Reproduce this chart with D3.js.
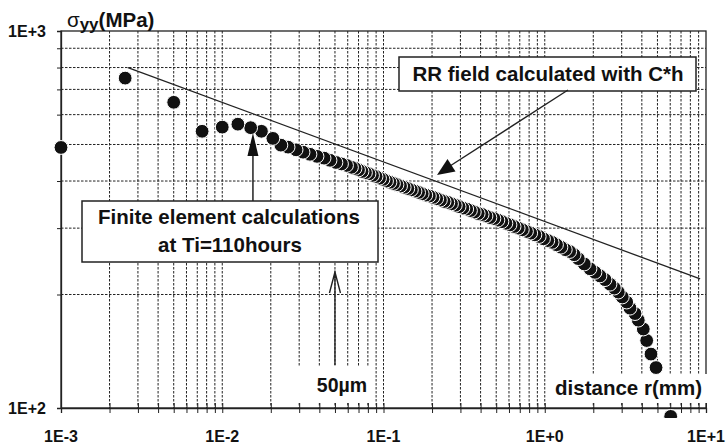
<!DOCTYPE html>
<html>
<head>
<meta charset="utf-8">
<script src="https://cdn.jsdelivr.net/npm/d3@7"></script>
<style>
  body { margin: 0; background: #fff; }
  svg { display: block; font-family: "Liberation Sans", Arial, sans-serif; }
</style>
</head>
<body>
<div id="chart"></div>
<script>
// distance from crack tip r (mm) and opening stress sigma_yy (MPa)
const rMM = [0.001, 0.0025, 0.005, 0.0075, 0.01, 0.0125, 0.015, 0.0175,
  0.0206, 0.0231, 0.0256, 0.0287, 0.0317, 0.0350, 0.0387, 0.0428, 0.0466, 0.0507, 0.0549, 0.0590, 0.0633,
  0.0666, 0.0700, 0.0736, 0.0773, 0.0813, 0.0855, 0.0899, 0.0945, 0.0993, 0.1044,
  0.1097, 0.1153, 0.1212, 0.1276, 0.1344, 0.1415, 0.1489, 0.1568, 0.1651, 0.1738,
  0.1829, 0.1926, 0.2028, 0.2138, 0.2254, 0.2376, 0.2505, 0.2641, 0.2788, 0.2943,
  0.3107, 0.3281, 0.3463, 0.3658, 0.3866, 0.4088, 0.4322, 0.4569, 0.4838, 0.5122,
  0.5424, 0.5742, 0.6087, 0.6455, 0.6842, 0.7259, 0.7705, 0.8184, 0.8689, 0.9239,
  0.9822, 1.044, 1.111, 1.183, 1.260, 1.341, 1.428, 1.522, 1.615,
  1.759, 1.908, 2.049, 2.200, 2.364, 2.539, 2.700, 2.858, 3.026, 3.222,
  3.378, 3.628, 3.803, 4.085, 4.287, 4.559, 4.90, 6.04];
const sigmaMPa = [491, 750, 647, 542, 556, 566, 554, 542,
  519, 498, 492, 484, 477, 471, 465, 460, 454, 448, 444, 440, 435,
  432, 428, 424, 421, 418, 414, 411, 407, 404, 400,
  397, 394, 391, 388, 385, 382, 379, 376, 373, 370,
  367, 365, 362, 359, 356, 353, 351, 348, 345, 342,
  339, 337, 334, 331, 328, 326, 323, 320, 318, 315,
  312, 309, 306, 303, 300, 297, 294, 291, 288, 285,
  281, 278, 275, 271, 267, 263, 260, 255, 249,
  241, 234, 229, 224, 219, 213, 208, 203, 197, 191,
  184, 178, 171, 162, 151, 139, 128, 95];

// RR field line (two end points)
const rrR = [0.0026, 9.2];
const rrSigma = [800, 220];

const xTickValues = [0.001, 0.01, 0.1, 1, 10];
const xTickLabels = ["1E-3", "1E-2", "1E-1", "1E+0", "1E+1"];
const yTickValues = [100, 1000];
const yTickLabels = ["1E+2", "1E+3"];

const width = 726, height = 448;

const svg = d3.select("#chart").append("svg")
    .attr("width", width)
    .attr("height", height);

const x = d3.scaleLog().domain([0.001, 10]).range([61, 706]);
const y = d3.scaleLog().domain([100, 1000]).range([408, 31]);

// grid
const grid = svg.append("g")
    .attr("stroke", "#222")
    .attr("stroke-width", 1)
    .attr("stroke-dasharray", "2.5,1.5");
grid.selectAll("line.v")
    .data(x.ticks().filter(d => d > 0.001 && d < 10))
    .join("line")
    .attr("class", "v")
    .attr("x1", d => x(d)).attr("x2", d => x(d))
    .attr("y1", y(1000)).attr("y2", y(100));
grid.selectAll("line.h")
    .data(y.ticks().filter(d => d > 100 && d < 1000))
    .join("line")
    .attr("class", "h")
    .attr("x1", x(0.001)).attr("x2", x(10))
    .attr("y1", d => y(d)).attr("y2", d => y(d));

// frame
svg.append("rect")
    .attr("x", x(0.001)).attr("y", y(1000))
    .attr("width", x(10) - x(0.001))
    .attr("height", y(100) - y(1000))
    .attr("fill", "none")
    .attr("stroke", "#222")
    .attr("stroke-width", 1.3);

// white backings behind the lower labels
svg.append("rect").attr("x", 296).attr("y", 366).attr("width", 76).attr("height", 37).attr("fill", "#fff");
svg.append("rect").attr("x", 549).attr("y", 374).attr("width", 162).attr("height", 29).attr("fill", "#fff");

// axes ticks
const xAxis = d3.axisBottom(x)
    .tickValues(x.ticks())
    .tickSize(5)
    .tickFormat("");
svg.append("g")
    .attr("transform", `translate(0,${y(100)})`)
    .call(xAxis)
    .call(g => g.select(".domain").attr("stroke", "#222").attr("stroke-width", 1.3))
    .call(g => g.selectAll(".tick line").attr("y1", -5).attr("stroke", "#222"));

const yAxis = d3.axisLeft(y)
    .tickValues(y.ticks())
    .tickSize(4)
    .tickFormat("");
svg.append("g")
    .attr("transform", `translate(${x(0.001)},0)`)
    .call(yAxis)
    .call(g => g.select(".domain").attr("stroke", "#222").attr("stroke-width", 1.3))
    .call(g => g.selectAll(".tick line").attr("stroke", "#222"));

// tick labels
svg.append("g").selectAll("text")
    .data(xTickValues)
    .join("text")
    .attr("x", d => x(d))
    .attr("y", 442)
    .attr("text-anchor", "middle")
    .attr("font-size", 16)
    .attr("font-weight", "bold")
    .attr("fill", "#111")
    .text((d, i) => xTickLabels[i]);
svg.append("g").selectAll("text")
    .data(yTickValues)
    .join("text")
    .attr("x", 27)
    .attr("y", d => y(d) + 6)
    .attr("text-anchor", "middle")
    .attr("font-size", 16)
    .attr("font-weight", "bold")
    .attr("fill", "#111")
    .text((d, i) => yTickLabels[i]);

// axis titles
const yTitle = svg.append("text")
    .attr("x", 67).attr("y", 27)
    .attr("font-size", 20.5)
    .attr("font-weight", "bold")
    .attr("fill", "#111");
yTitle.append("tspan").attr("font-weight", "normal").text("σ");
yTitle.append("tspan").attr("font-size", 17).attr("dy", 3).text("yy");
yTitle.append("tspan").attr("dy", -3).text("(MPa)");

svg.append("text")
    .attr("x", 702).attr("y", 395)
    .attr("text-anchor", "end")
    .attr("font-size", 20.5)
    .attr("font-weight", "bold")
    .attr("fill", "#111")
    .text("distance r(mm)");

// RR field line
const line = d3.line().x(d => x(d[0])).y(d => y(d[1]));
svg.append("path")
    .attr("d", line(d3.zip(rrR, rrSigma)))
    .attr("fill", "none")
    .attr("stroke", "#222")
    .attr("stroke-width", 1.3);

// finite element points, drawn far to near so the near points overlap
svg.append("clipPath").attr("id", "clip")
    .append("rect").attr("x", 0).attr("y", 0).attr("width", width).attr("height", 418);
const points = d3.zip(rMM, sigmaMPa).reverse();
svg.append("g")
    .attr("clip-path", "url(#clip)")
    .selectAll("circle")
    .data(points)
    .join("circle")
    .attr("cx", d => x(d[0]))
    .attr("cy", d => y(d[1]))
    .attr("r", 6.9)
    .attr("fill", "#111")
    .attr("stroke", "#fff")
    .attr("stroke-width", 1);

// annotation: RR field
svg.append("rect")
    .attr("x", 399).attr("y", 57).attr("width", 297).attr("height", 34)
    .attr("fill", "#fff").attr("stroke", "#222").attr("stroke-width", 1.5);
svg.append("text")
    .attr("x", 548).attr("y", 81)
    .attr("text-anchor", "middle")
    .attr("font-size", 20.5)
    .attr("font-weight", "bold")
    .attr("fill", "#111")
    .text("RR field calculated with C*h");
svg.append("line")
    .attr("x1", 568).attr("y1", 90).attr("x2", 450).attr("y2", 166)
    .attr("stroke", "#222").attr("stroke-width", 1.4);
svg.append("path")
    .attr("d", "M437,175 L447.5,159 L455.5,171.5 Z")
    .attr("fill", "#111");

// annotation: finite element calculations
svg.append("rect")
    .attr("x", 82).attr("y", 201).attr("width", 296).attr("height", 61)
    .attr("fill", "#fff").attr("stroke", "#222").attr("stroke-width", 1.5);
svg.append("text")
    .attr("x", 229).attr("y", 224)
    .attr("text-anchor", "middle")
    .attr("font-size", 20.5)
    .attr("font-weight", "bold")
    .attr("fill", "#111")
    .text("Finite element calculations");
svg.append("text")
    .attr("x", 230).attr("y", 252)
    .attr("text-anchor", "middle")
    .attr("font-size", 20.5)
    .attr("font-weight", "bold")
    .attr("fill", "#111")
    .text("at Ti=110hours");
const feX = x(0.0155);
svg.append("line")
    .attr("x1", feX).attr("y1", 201).attr("x2", feX).attr("y2", 150)
    .attr("stroke", "#222").attr("stroke-width", 1.5);
svg.append("path")
    .attr("d", `M${feX},133 L${feX - 5.5},156 L${feX + 5.5},156 Z`)
    .attr("fill", "#111");

// annotation: 50 µm
const umX = x(0.05);
svg.append("path")
    .attr("d", `M${umX},365 L${umX},272 M${umX - 5.5},293 L${umX},272 L${umX + 5.5},293`)
    .attr("fill", "none")
    .attr("stroke", "#222")
    .attr("stroke-width", 1.4);
svg.append("text")
    .attr("x", 342).attr("y", 392)
    .attr("text-anchor", "middle")
    .attr("font-size", 19.5)
    .attr("font-weight", "bold")
    .attr("fill", "#111")
    .text("50µm");
</script>
</body>
</html>
